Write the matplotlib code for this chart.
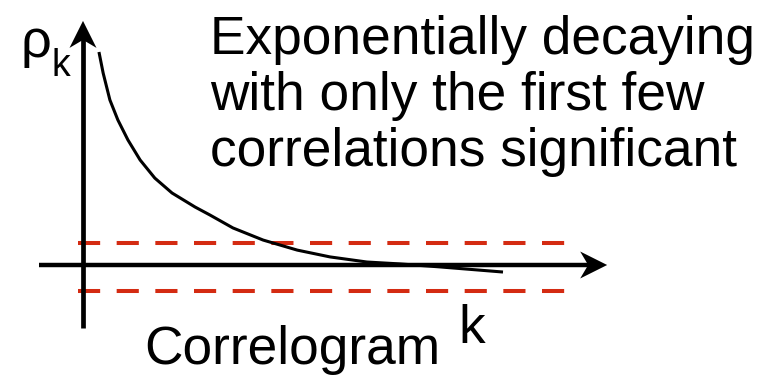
import matplotlib.pyplot as plt
from matplotlib.patches import Polygon

# Sketch of an exponentially decaying autocorrelation function (correlogram).
W, H = 764, 385
ORIGIN = (83, 265)          # pixel position of (k=0, rho=0)
SX, SY = 42.0, 213.0        # pixels per lag unit / per unit of rho

# Read-off ACF curve (lag k, rho_k)
lag = [0.38, 0.48, 0.64, 0.83, 1.07, 1.36, 1.71, 2.12, 2.67, 3.02, 3.57,
       4.29, 5.10, 5.88, 6.76, 7.55, 8.50, 10.0]
rho = [1.00, 0.901, 0.775, 0.681, 0.587, 0.493, 0.408, 0.338, 0.272, 0.235,
       0.174, 0.117, 0.070, 0.038, 0.014, 0.005, -0.009, -0.033]

# Significance band and its horizontal extent
band_upper, band_lower = 0.103, -0.122
band_start, band_end = -0.12, 11.74

# Axis extents (tail, tip) in data units
k_axis = (-1.05, 12.48)
rho_axis = (-0.296, 1.146)

title_lines = ["Exponentially decaying", "with only the first few",
               "correlations significant"]

plt.rcParams["font.family"] = ["Liberation Sans", "DejaVu Sans"]

fig = plt.figure(figsize=(W / 100, H / 100), dpi=100)
ax = fig.add_axes([0, 0, 1, 1])
ax.set_xlim(-ORIGIN[0] / SX, (W - ORIGIN[0]) / SX)
ax.set_ylim((ORIGIN[1] - H) / SY, ORIGIN[1] / SY)
ax.axis("off")

red = "#d42b12"
for y in (band_upper, band_lower):
    ax.plot([band_start, band_end], [y, y], color=red, lw=2.9,
            dashes=(5.5, 4.1), solid_capstyle="butt", zorder=1)

# axes lines with notched arrowheads (sizes in pixels)
hl, hw, notch = 27, 13.5, 8
ax.plot([0, 0], [rho_axis[0], rho_axis[1] - notch / SY], color="black",
        lw=3.4, solid_capstyle="butt", zorder=2)
ax.plot([k_axis[0], k_axis[1] - notch / SX], [0, 0], color="black", lw=3.2,
        solid_capstyle="butt", zorder=2)
tip = k_axis[1]
ax.add_patch(Polygon([(tip, 0), (tip - hl / SX, hw / SY),
                      (tip - (hl - notch) / SX, 0), (tip - hl / SX, -hw / SY)],
                     closed=True, color="black", lw=0, zorder=3))
tip = rho_axis[1]
ax.add_patch(Polygon([(0, tip), (hw / SX, tip - hl / SY),
                      (0, tip - (hl - notch) / SY), (-hw / SX, tip - hl / SY)],
                     closed=True, color="black", lw=0, zorder=3))

ax.plot(lag, rho, color="black", lw=2.2, solid_joinstyle="round",
        solid_capstyle="butt", zorder=4)


def fpos(x, y):
    return x / W, 1 - y / H


for i, line in enumerate(title_lines):
    fig.text(*fpos(210, 54 + 56 * i), line, fontsize=38.3, va="baseline",
             ha="left")
fig.text(*fpos(144, 364), "Correlogram", fontsize=38.3, va="baseline",
         ha="left")
fig.text(*fpos(458, 343), "k", fontsize=38.3, va="baseline", ha="left")
fig.text(*fpos(20, 57), "\u03c1", fontsize=39, va="baseline", ha="left")
fig.text(*fpos(51, 76), "k", fontsize=27, va="baseline", ha="left")

fig.savefig("out.png", dpi=100)
